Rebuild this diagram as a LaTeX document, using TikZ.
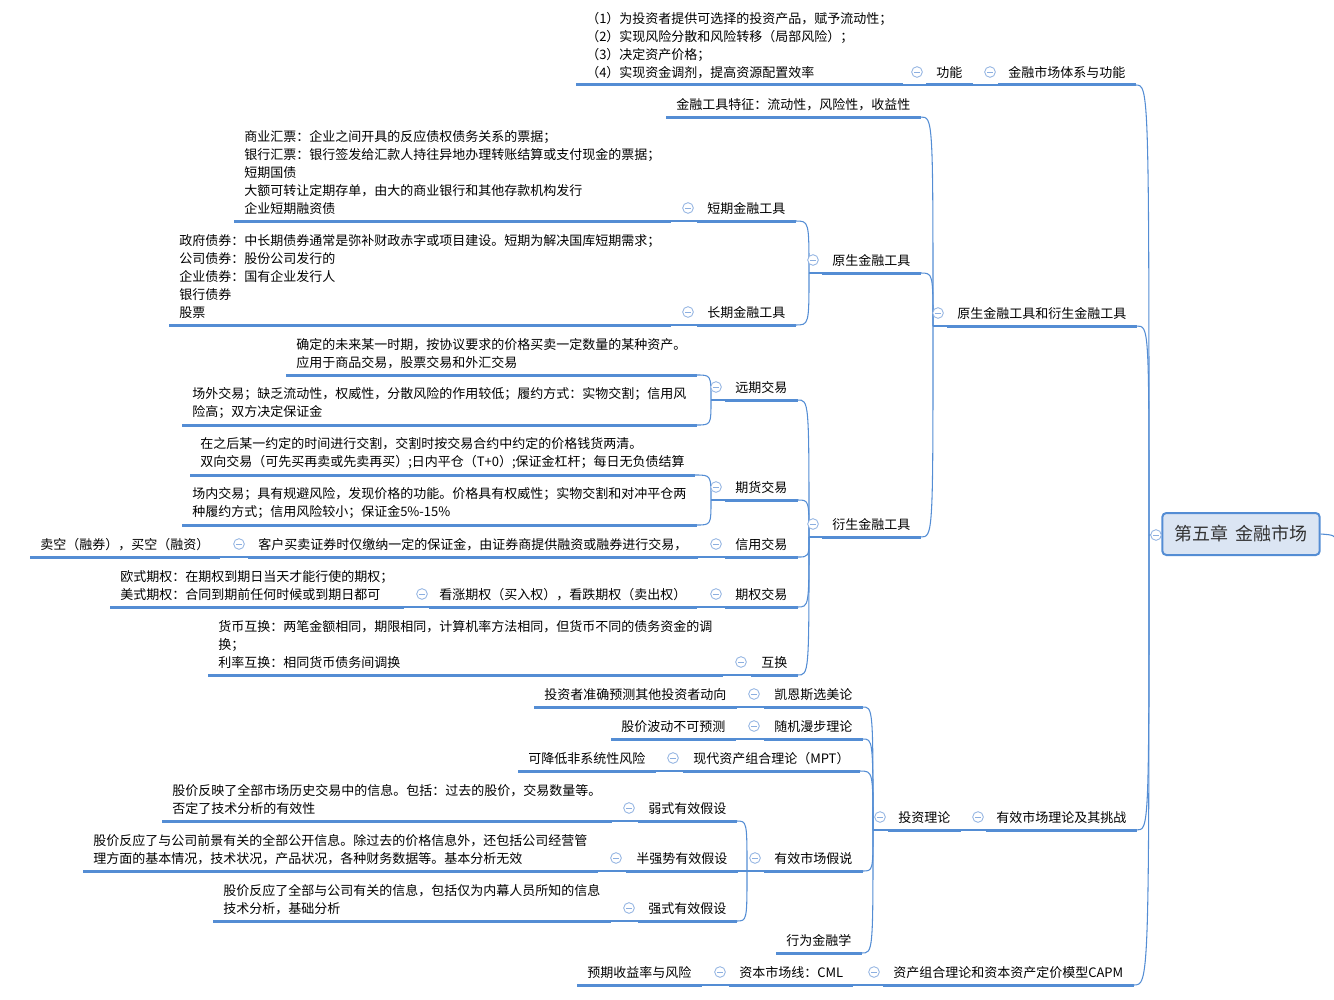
\documentclass[tikz,border=0pt]{standalone}
\usepackage{fontspec}
\setmainfont{Noto Sans CJK SC}
\definecolor{lineblue}{RGB}{84,141,212}
\definecolor{foldblue}{RGB}{140,175,224}
\definecolor{rootfill}{RGB}{219,229,243}
\newcommand{\tfont}{\fontsize{9.75pt}{13.5pt}\selectfont}
\newcommand{\rfont}{\fontsize{13.5pt}{16pt}\selectfont}
\tikzset{
  topic/.style={anchor=south west, inner xsep=7.5pt, inner ysep=4.5pt, align=left, font=\tfont},
  uline/.style={lineblue, line width=2.25pt},
  link/.style={lineblue, line width=0.8pt},
  fold/.style={circle, draw=foldblue, fill=white, line width=0.6pt, minimum size=8pt, inner sep=0pt,
    path picture={\draw[foldblue, line width=0.6pt] ([xshift=-2pt]path picture bounding box.center) -- ([xshift=2pt]path picture bounding box.center);}},
  rootbox/.style={draw=lineblue, fill=rootfill, line width=1.5pt, rounded corners=3pt,
    minimum width=118pt, minimum height=31.5pt, font=\rfont, text=black!80}
}
\begin{document}
\begin{tikzpicture}[x=0.75pt,y=-0.75pt]
\useasboundingbox (0,0) rectangle (1334,999);

% root
\node[rootbox] (root) at (1241,534) {第五章\hspace{0.4em}金融市场};
\coordinate (j0) at (1149,535);
\coordinate (rout) at (1338,542);

% 金融市场体系与功能
\node[topic] (sys) at (998,85) {金融市场体系与功能};
\node[topic] (gn) at (926,85) {功能};
\node[topic] (gnt) at (576,85) {（1）为投资者提供可选择的投资产品，赋予流动性；\\（2）实现风险分散和风险转移（局部风险）；\\（3）决定资产价格；\\（4）实现资金调剂，提高资源配置效率};

% 原生金融工具和衍生金融工具
\node[topic] (ysys) at (947,326) {原生金融工具和衍生金融工具};
\coordinate (jysys) at (933,326);
\node[topic] (feat) at (666,117) {金融工具特征：流动性，风险性，收益性};
\node[topic] (ys) at (822,273) {原生金融工具};
\coordinate (jys) at (809,273);
\node[topic] (dq) at (697,221) {短期金融工具};
\node[topic] (dqt) at (234,221) {商业汇票：企业之间开具的反应债权债务关系的票据；\\银行汇票：银行签发给汇款人持往异地办理转账结算或支付现金的票据；\\短期国债\\大额可转让定期存单，由大的商业银行和其他存款机构发行\\企业短期融资债};
\node[topic] (cq) at (697,325) {长期金融工具};
\node[topic] (cqt) at (169,325) {政府债券：中长期债券通常是弥补财政赤字或项目建设。短期为解决国库短期需求；\\公司债券：股份公司发行的\\企业债券：国有企业发行人\\银行债券\\股票};

\node[topic] (ys2) at (822,537) {衍生金融工具};
\coordinate (jys2) at (809,537);
\node[topic] (yq) at (725,400) {远期交易};
\coordinate (jyq) at (711,400);
\node[topic] (yq1) at (286,375) {确定的未来某一时期，按协议要求的价格买卖一定数量的某种资产。\\应用于商品交易，股票交易和外汇交易};
\node[topic] (yq2) at (182,425) {场外交易；缺乏流动性，权威性，分散风险的作用较低；履约方式：实物交割；信用风\\险高；双方决定保证金};
\node[topic] (qh) at (725,500) {期货交易};
\coordinate (jqh) at (711,500);
\node[topic] (qh1) at (190,475) {在之后某一约定的时间进行交割，交割时按交易合约中约定的价格钱货两清。\\双向交易（可先买再卖或先卖再买）;日内平仓（T+0）;保证金杠杆；每日无负债结算};
\node[topic] (qh2) at (182,525) {场内交易；具有规避风险，发现价格的功能。价格具有权威性；实物交割和对冲平仓两\\种履约方式；信用风险较小；保证金5\%-15\%};
\node[topic] (xy) at (725,557) {信用交易};
\node[topic] (xy1) at (248,557) {客户买卖证券时仅缴纳一定的保证金，由证券商提供融资或融券进行交易，};
\node[topic] (xy2) at (30,557) {卖空（融券），买空（融资）};
\node[topic] (qq) at (725,607) {期权交易};
\node[topic] (qq1) at (429,607) {看涨期权（买入权），看跌期权（卖出权）};
\node[topic] (qq2) at (110,607) {欧式期权：在期权到期日当天才能行使的期权；\\美式期权：合同到期前任何时候或到期日都可};
\node[topic] (hh) at (751,675) {互换};
\node[topic] (hh1) at (208,675) {货币互换：两笔金额相同，期限相同，计算机率方法相同，但货币不同的债务资金的调\\换；\\利率互换：相同货币债务间调换};

% 有效市场理论及其挑战
\node[topic] (eff) at (986,830) {有效市场理论及其挑战};
\node[topic] (tz) at (888,830) {投资理论};
\coordinate (jtz) at (873,830);
\node[topic] (ks) at (764,707) {凯恩斯选美论};
\node[topic] (ks1) at (534,707) {投资者准确预测其他投资者动向};
\node[topic] (sj) at (764,739) {随机漫步理论};
\node[topic] (sj1) at (611,739) {股价波动不可预测};
\node[topic] (mpt) at (683,771) {现代资产组合理论（MPT）};
\node[topic] (mpt1) at (518,771) {可降低非系统性风险};
\node[topic] (emh) at (764,871) {有效市场假说};
\coordinate (jemh) at (747,871);
\node[topic] (ruo) at (638,821) {弱式有效假设};
\node[topic] (ruo1) at (162,821) {股价反映了全部市场历史交易中的信息。包括：过去的股价，交易数量等。\\否定了技术分析的有效性};
\node[topic] (bqs) at (626,871) {半强势有效假设};
\node[topic] (bqs1) at (83,871) {股价反应了与公司前景有关的全部公开信息。除过去的价格信息外，还包括公司经营管\\理方面的基本情况，技术状况，产品状况，各种财务数据等。基本分析无效};
\node[topic] (qs) at (638,921) {强式有效假设};
\node[topic] (qs1) at (213,921) {股价反应了全部与公司有关的信息，包括仅为内幕人员所知的信息\\技术分析，基础分析};
\node[topic] (xw) at (776,953) {行为金融学};

% 资产组合理论和资本资产定价模型CAPM
\node[topic] (capm) at (883,985) {资产组合理论和资本资产定价模型CAPM};
\node[topic] (cml) at (729,985) {资本市场线：CML};
\node[topic] (syl) at (577,985) {预期收益率与风险};

% connectors
\draw[link] (root.west) -- (j0);
\draw[link] (root.east) .. controls (1334,535) .. (rout);
\foreach \c in {sys,ysys,eff,capm}
  \draw[link] (j0) .. controls (j0 |- \c.south east) .. (\c.south east);
\draw[link] (sys.south west) -- (gn.south east);
\draw[link] (gn.south west) -- (gnt.south east);

\draw[link] (ysys.south west) -- (jysys);
\foreach \c in {feat,ys,ys2}
  \draw[link] (jysys) .. controls (jysys |- \c.south east) .. (\c.south east);
\draw[link] (ys.south west) -- (jys);
\foreach \c in {dq,cq}
  \draw[link] (jys) .. controls (jys |- \c.south east) .. (\c.south east);
\draw[link] (dq.south west) -- (dqt.south east);
\draw[link] (cq.south west) -- (cqt.south east);

\draw[link] (ys2.south west) -- (jys2);
\foreach \c in {yq,qh,xy,qq,hh}
  \draw[link] (jys2) .. controls (jys2 |- \c.south east) .. (\c.south east);
\draw[link] (yq.south west) -- (jyq);
\foreach \c in {yq1,yq2}
  \draw[link] (jyq) .. controls (jyq |- \c.south east) .. (\c.south east);
\draw[link] (qh.south west) -- (jqh);
\foreach \c in {qh1,qh2}
  \draw[link] (jqh) .. controls (jqh |- \c.south east) .. (\c.south east);
\draw[link] (xy.south west) -- (xy1.south east);
\draw[link] (xy1.south west) -- (xy2.south east);
\draw[link] (qq.south west) -- (qq1.south east);
\draw[link] (qq1.south west) -- (qq2.south east);
\draw[link] (hh.south west) -- (hh1.south east);

\draw[link] (eff.south west) -- (tz.south east);
\draw[link] (tz.south west) -- (jtz);
\foreach \c in {ks,sj,mpt,emh,xw}
  \draw[link] (jtz) .. controls (jtz |- \c.south east) .. (\c.south east);
\draw[link] (ks.south west) -- (ks1.south east);
\draw[link] (sj.south west) -- (sj1.south east);
\draw[link] (mpt.south west) -- (mpt1.south east);
\draw[link] (emh.south west) -- (jemh);
\foreach \c in {ruo,bqs,qs}
  \draw[link] (jemh) .. controls (jemh |- \c.south east) .. (\c.south east);
\draw[link] (ruo.south west) -- (ruo1.south east);
\draw[link] (bqs.south west) -- (bqs1.south east);
\draw[link] (qs.south west) -- (qs1.south east);

\draw[link] (capm.south west) -- (cml.south east);
\draw[link] (cml.south west) -- (syl.south east);

% underlines
\foreach \n in {sys,gn,gnt,ysys,feat,ys,dq,dqt,cq,cqt,ys2,yq,yq1,yq2,qh,qh1,qh2,
  xy,xy1,xy2,qq,qq1,qq2,hh,hh1,eff,tz,ks,ks1,sj,sj1,mpt,mpt1,emh,ruo,ruo1,
  bqs,bqs1,qs,qs1,xw,capm,cml,syl}
  \draw[uline] (\n.south west) -- (\n.south east);

% fold marks
\foreach \n/\x/\y in {root/1156/535,sys/990/72,gn/917/72,ysys/938/313,ys/813/260,
  dq/688/208,cq/688/312,ys2/813/524,yq/716/387,qh/716/487,xy/716/544,xy1/239/544,
  qq/716/594,qq1/422/594,hh/741/662,eff/978/817,tz/880/817,ks/754/694,sj/754/726,
  mpt/673/758,emh/755/858,ruo/629/808,bqs/616/858,qs/629/908,capm/874/972,cml/720/972}
  \node[fold] (f\n) at (\x,\y) {};
\end{tikzpicture}
\end{document}
